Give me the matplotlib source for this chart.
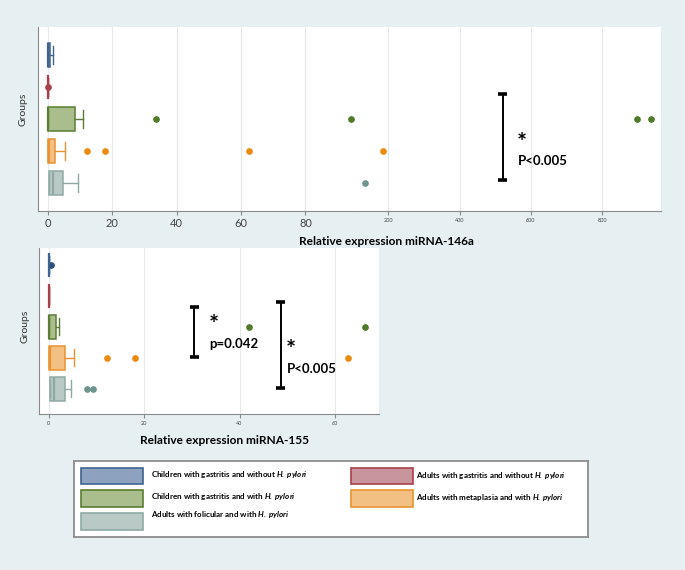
import numpy as np
import matplotlib
matplotlib.use('Agg')
import matplotlib.pyplot as plt
from matplotlib.patches import Rectangle

plt.rcParams['font.family'] = ['Lato', 'DejaVu Sans']
plt.rcParams['mathtext.fontset'] = 'custom'
plt.rcParams['mathtext.rm'] = 'Lato'
plt.rcParams['mathtext.bf'] = 'Lato:bold'
plt.rcParams['mathtext.bfit'] = 'Lato:italic:bold'

# groups, top to bottom
groups = ['Children with gastritis and without $\\mathbfit{H.\\,pylori}$',
          'Adults with gastritis and without $\\mathbfit{H.\\,pylori}$',
          'Children with gastritis and with $\\mathbfit{H.\\,pylori}$',
          'Adults with metaplasia and with $\\mathbfit{H.\\,pylori}$',
          'Adults with folicular and with $\\mathbfit{H.\\,pylori}$']

# miRNA-146a box summaries
m146_q1 = [0.0, 0.0, 0.1, 0.0, 0.3]
m146_med = [0.2, 0.0, 0.2, 0.5, 1.7]
m146_q3 = [0.8, 0.0, 8.6, 2.4, 4.7]
m146_whi = [1.6, 0.0, 11.0, 5.3, 9.4]
m146_out = [[], [0.1], [33.6, 94.0, 899, 937], [12.1, 17.8, 62.6, 184], [134]]

# miRNA-155 box summaries
m155_q1 = [0.0, 0.0, 0.0, 0.0, 0.2]
m155_med = [0.0, 0.0, 0.1, 0.3, 1.1]
m155_q3 = [0.0, 0.0, 1.6, 3.5, 3.5]
m155_whi = [0.0, 0.0, 2.2, 5.3, 4.6]
m155_out = [[0.5], [], [42.0, 66.3], [12.2, 18.0, 62.8], [8.1, 9.4]]

fills = ['#8da2be', '#c7959b', '#a9bd8d', '#f3c084', '#b9c9c5']
edges = ['#3e6490', '#a8404a', '#5b7e34', '#ea9330', '#8fa9a4']
dots = ['#2c4f7a', '#a8404a', '#4f7a28', '#ec8a10', '#6e948e']
bg = '#e6eff1'

W, H = 685, 570


def rect(x0, y0, x1, y1):
    return [x0 / W, 1 - y1 / H, (x1 - x0) / W, (y1 - y0) / H]


def stats(q1, med, q3, whi, out):
    return [dict(q1=a, med=b, q3=c, whislo=a, whishi=d, fliers=e)
            for a, b, c, d, e in zip(q1, med, q3, whi, out)]


def boxes(ax, st):
    art = ax.bxp(st, positions=range(1, 6), widths=0.77, capwidths=0.55,
                 orientation='horizontal', patch_artist=True, manage_ticks=False)
    for i in range(5):
        art['boxes'][i].set(facecolor=fills[i], edgecolor=edges[i], linewidth=1.1)
        art['medians'][i].set(color=edges[i], linewidth=1.6)
        for w in art['whiskers'][2 * i:2 * i + 2]:
            w.set(color=edges[i], linewidth=1)
        for c in art['caps'][2 * i:2 * i + 2]:
            c.set(color=edges[i], linewidth=1)
        art['fliers'][i].set(marker='o', markersize=3.8, markerfacecolor=dots[i],
                             markeredgecolor=dots[i], linestyle='none')


def style(ax, left=True, lsize=8):
    ax.set_facecolor('white')
    ax.set_yticks([])
    for s in ['top', 'right']:
        ax.spines[s].set_visible(False)
    ax.spines['left'].set_visible(left)
    ax.spines['left'].set_color('#8a8a8a')
    ax.spines['bottom'].set_color('#8a8a8a')
    ax.tick_params(axis='x', length=3, color='#8a8a8a', labelsize=lsize,
                   labelcolor='#444444', pad=2)
    ax.grid(axis='x', color='#e2eaef', linewidth=0.8)
    ax.set_axisbelow(True)


def bracket(ax, x, y0, y1, hw):
    ax.vlines(x, y0, y1, color='black', linewidth=1.4)
    ax.hlines([y0, y1], x - hw, x + hw, color='black', linewidth=2.6)


def star(ax, x, y):
    ax.text(x, y, '*', fontsize=17, fontweight='bold', ha='center', va='center')


fig = plt.figure(figsize=(6.85, 5.70), dpi=100)
fig.patch.set_facecolor(bg)

# miRNA-146a, left part
ax1 = fig.add_axes(rect(38, 27, 357, 211))
boxes(ax1, stats(m146_q1, m146_med, m146_q3, m146_whi, m146_out))
ax1.set_xlim(-3, 96)
ax1.set_ylim(5.875, 0.125)
ax1.set_xticks([0, 20, 40, 60, 80])
style(ax1)
ax1.set_ylabel('Groups', fontsize=7.5, color='#333333')
ax1.yaxis.set_label_coords(-11 / 319, 0.55)

# miRNA-146a, right part
ax2 = fig.add_axes(rect(357, 27, 661, 211))
boxes(ax2, stats(m146_q1, m146_med, m146_q3, m146_whi, m146_out))
ax2.set_xlim(112, 965)
ax2.set_ylim(5.875, 0.125)
ax2.set_xticks([200, 400, 600, 800])
style(ax2, left=False, lsize=4)
bracket(ax2, 521, 2.22, 4.92, 12.6)
star(ax2, 575, 3.75)
ax2.text(563, 4.30, 'P<0.005', fontsize=9.5, fontweight='bold', ha='left', va='center')

fig.text(386 / W, 1 - 241.7 / H, 'Relative expression miRNA-146a', fontsize=8.6,
         fontweight='bold', ha='center', va='center')

# miRNA-155
ax3 = fig.add_axes(rect(39, 248, 379, 414))
boxes(ax3, stats(m155_q1, m155_med, m155_q3, m155_whi, m155_out))
ax3.set_xlim(-2.0, 69.2)
ax3.set_ylim(5.816, 0.452)
ax3.set_xticks([0, 20, 40, 60])
style(ax3, lsize=4)
ax3.set_ylabel('Groups', fontsize=7.5, color='#333333')
ax3.yaxis.set_label_coords(-9 / 340, 0.526)
bracket(ax3, 30.5, 2.345, 3.977, 0.94)
star(ax3, 34.6, 2.97)
ax3.text(33.6, 3.56, 'p=0.042', fontsize=9.5, fontweight='bold', ha='left', va='center')
bracket(ax3, 48.6, 2.20, 4.98, 0.94)
star(ax3, 50.8, 3.78)
ax3.text(49.9, 4.36, 'P<0.005', fontsize=9.5, fontweight='bold', ha='left', va='center')

fig.text(224 / W, 1 - 440 / H, 'Relative expression miRNA-155', fontsize=8.6,
         fontweight='bold', ha='center', va='center')

# legend box
lax = fig.add_axes(rect(74, 461, 588, 537))
lax.set_xlim(74, 588)
lax.set_ylim(537, 461)
lax.set_xticks([])
lax.set_yticks([])
lax.set_facecolor('white')
for s in lax.spines.values():
    s.set_color('#8c8c8c')
    s.set_linewidth(1.3)

sw_x = [81, 81, 351, 81, 351]
sw_y = [467.7, 513.3, 467.7, 490, 490]
sw_w, sw_h = 61.7, 16.7
txt_x = [150.7, 150.7, 416, 150.7, 416]
txt_y = [474.7, 514, 475, 496, 497.7]
order = [0, 4, 1, 2, 3]
for k, i in enumerate(order):
    lax.add_patch(Rectangle((sw_x[k], sw_y[k]), sw_w, sw_h, facecolor=fills[i],
                            edgecolor=edges[i], linewidth=1.2))
    lax.text(txt_x[k], txt_y[k], groups[i], fontsize=5.8, fontweight='bold',
             ha='left', va='center')

fig.savefig('out.png', dpi=100, facecolor=bg)
